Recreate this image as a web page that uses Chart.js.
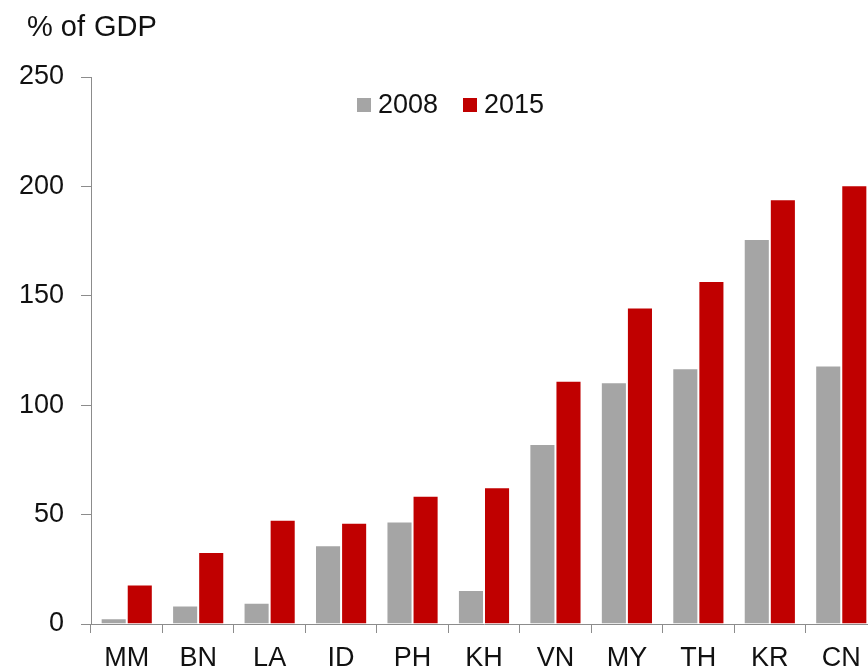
<!DOCTYPE html>
<html>
<head>
<meta charset="utf-8">
<script src="https://cdn.jsdelivr.net/npm/chart.js@4/dist/chart.umd.min.js"></script>
<style>
html,body{margin:0;padding:0;background:#fff;overflow:hidden;width:868px;height:671px;}
#wrap{width:900px;height:671px;}
</style>
</head>
<body>
<div id="wrap"><canvas id="c" width="900" height="671"></canvas></div>
<script>
const categories = ["MM","BN","LA","ID","PH","KH","VN","MY","TH","KR","CN"];
const values2008 = [2.6, 8.4, 9.7, 36, 46.9, 15.5, 82.3, 110.5, 116.9, 176, 118.2];
const values2015 = [18.1, 32.9, 47.7, 46.3, 58.6, 62.5, 111.2, 144.7, 156.8, 194.1, 200.5];
const seriesLabels = ["2008", "2015"];
const yTicks = [0, 50, 100, 150, 200, 250];
const yTitle = "% of GDP";

const FONT = "'Liberation Sans', Arial, sans-serif";
const TXT = "#111";
const AX = "#8c8c8c";

const overlay = {
  id: 'overlay',
  afterDraw(chart) {
    const ctx = chart.ctx;
    ctx.save();
    ctx.fillStyle = TXT;
    ctx.font = "29px " + FONT;
    ctx.textBaseline = "alphabetic";
    ctx.textAlign = "left";
    ctx.fillText("% of", 27, 36);
    ctx.fillText("GDP", 94, 36);
    // legend
    ctx.font = "27px " + FONT;
    let x = 357;
    chart.data.datasets.forEach((ds) => {
      ctx.fillStyle = ds.backgroundColor;
      ctx.fillRect(x, 98, 14, 14);
      ctx.fillStyle = TXT;
      ctx.fillText(ds.label, x + 21, 113);
      x += 106;
    });
    ctx.restore();
  }
};

new Chart(document.getElementById('c'), {
  type: 'bar',
  data: {
    labels: categories,
    datasets: [
      { label: seriesLabels[0], data: values2008, backgroundColor: '#a5a5a5', borderColor: 'rgba(255,255,255,0.6)', borderWidth: 1 },
      { label: seriesLabels[1], data: values2015, backgroundColor: '#c00000', borderColor: 'rgba(255,255,255,0.6)', borderWidth: 1 }
    ]
  },
  options: {
    responsive: false,
    animation: false,
    layout: { padding: { top: 77, right: 23, bottom: 0, left: 0 } },
    categoryPercentage: 0.73,
    barPercentage: 1.0,
    plugins: { legend: { display: false }, tooltip: { enabled: false }, title: { display: false } },
    scales: {
      x: {
        grid: { display: true, drawOnChartArea: false, offset: true, tickLength: 9, color: AX },
        border: { display: true, color: AX, width: 1 },
        ticks: { color: TXT, font: { family: FONT, size: 27 }, padding: 9, maxRotation: 0 },
        afterFit(scale) { scale.height = 47; }
      },
      y: {
        min: 0, max: 250,
        afterBuildTicks(scale) { scale.ticks = yTicks.map(v => ({ value: v })); },
        grid: { display: true, drawOnChartArea: false, tickLength: 10, color: AX },
        border: { display: true, color: AX, width: 1 },
        ticks: { color: TXT, font: { family: FONT, size: 27 }, padding: 17 },
        afterFit(scale) { scale.width = 91; }
      }
    }
  },
  plugins: [overlay]
});
</script>
</body>
</html>
